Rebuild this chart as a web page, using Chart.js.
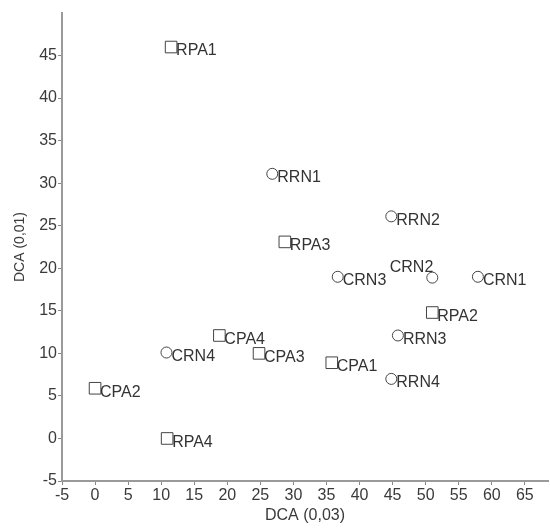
<!DOCTYPE html>
<html><head><meta charset="utf-8">
<script src="https://cdn.jsdelivr.net/npm/chart.js@4"></script>
<style>html,body{margin:0;padding:0;background:#fff;}#wrap{width:550px;height:529px;}</style>
</head><body><div id="wrap"><canvas id="c" width="550" height="529"></canvas></div>
<script>
const squareLabels = ["RPA1","RPA3","RPA2","CPA4","CPA3","CPA1","CPA2","RPA4"];
const squareX = [11.5, 28.7, 51, 18.8, 24.8, 35.8, 0, 10.9];
const squareY = [46, 23.1, 14.8, 12.1, 10, 8.9, 5.9, 0];
const circleLabels = ["RRN1","RRN2","CRN2","CRN3","CRN1","RRN3","CRN4","RRN4"];
const circleX = [26.8, 44.8, 51, 36.7, 57.9, 45.8, 10.8, 44.8];
const circleY = [31.1, 26.1, 18.9, 19, 19, 12.1, 10.1, 7];
const xTicks = [-5,0,5,10,15,20,25,30,35,40,45,50,55,60,65];
const yTicks = [-5,0,5,10,15,20,25,30,35,40,45];
const xTitle = "DCA (0,03)";
const yTitle = "DCA (0,01)";

const FONT = "'Liberation Sans', Arial, sans-serif";
const txt = '#3a3a3a';

const labelPlugin = {
  id: 'pointLabels',
  afterDatasetsDraw(chart) {
    const ctx = chart.ctx;
    ctx.save();
    ctx.font = "16px " + FONT;
    ctx.fillStyle = '#333';
    ctx.textBaseline = 'middle';
    chart.data.datasets.forEach((ds, di) => {
      const meta = chart.getDatasetMeta(di);
      meta.data.forEach((pt, i) => {
        const lab = ds.labels[i];
        if (lab === 'CRN2') {
          ctx.textAlign = 'right';
          ctx.fillText(lab, pt.x + 1, pt.y - 10);
        } else {
          ctx.textAlign = 'left';
          ctx.fillText(lab, pt.x + 5, pt.y + 4);
        }
      });
    });
    ctx.restore();
  }
};

new Chart(document.getElementById('c'), {
  type: 'scatter',
  data: {
    datasets: [
      { labels: squareLabels, data: squareX.map((x,i)=>({x, y: squareY[i]})),
        pointStyle: 'rect', pointRadius: 8.2, pointHoverRadius: 8.2,
        borderColor: '#444', backgroundColor: 'rgba(255,255,255,0)', borderWidth: 1 },
      { labels: circleLabels, data: circleX.map((x,i)=>({x, y: circleY[i]})),
        pointStyle: 'circle', pointRadius: 5.5, pointHoverRadius: 5.5,
        borderColor: '#444', backgroundColor: 'rgba(255,255,255,0)', borderWidth: 1 }
    ]
  },
  options: {
    responsive: false, animation: false, devicePixelRatio: 1,
    layout: { autoPadding: false, padding: { left: 0, right: 2, top: 13, bottom: 0 } },
    plugins: { legend: { display: false }, tooltip: { enabled: false } },
    scales: {
      x: {
        type: 'linear', min: -5, max: 68.5,
        afterBuildTicks: s => { s.ticks = xTicks.map(v => ({ value: v })); },
        afterFit: s => { s.height = 48; },
        grid: { drawOnChartArea: false, drawTicks: true, tickLength: 4, color: '#888' },
        border: { display: true, color: '#9a9a9a', width: 2 },
        ticks: { font: { size: 16, family: FONT }, color: txt, padding: 1, maxRotation: 0, autoSkip: false },
        title: { display: true, text: xTitle, font: { size: 16, family: FONT }, color: txt, padding: { top: 0, bottom: 4 } }
      },
      y: {
        type: 'linear', min: -5, max: 50,
        afterBuildTicks: s => { s.ticks = yTicks.map(v => ({ value: v })); },
        afterFit: s => { s.width = 62; },
        grid: { drawOnChartArea: false, drawTicks: true, tickLength: 4, color: '#888' },
        border: { display: true, color: '#9a9a9a', width: 2 },
        ticks: { font: { size: 16, family: FONT }, color: txt, padding: 1, autoSkip: false },
        title: { display: true, text: yTitle, font: { size: 14, family: FONT }, color: txt, padding: { top: 12, bottom: 0 } }
      }
    }
  },
  plugins: [labelPlugin]
});
</script></body></html>
